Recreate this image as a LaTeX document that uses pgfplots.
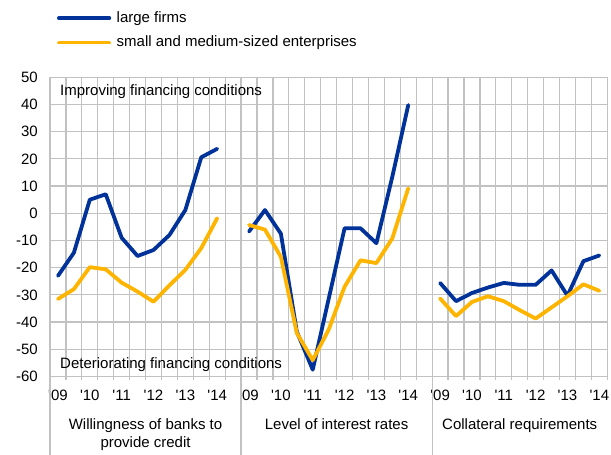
\documentclass[border=0pt]{standalone}
\usepackage{fontspec}
\setmainfont{Liberation Sans}
\usepackage{pgfplots}
\pgfplotsset{compat=1.18}
\definecolor{ecbblue}{RGB}{0,50,153}
\definecolor{ecbyellow}{RGB}{255,180,0}
\colorlet{lightgrid}{black!24}
\newcommand{\q}{\textquotesingle}
\newcommand{\fs}{\fontsize{15}{18}\selectfont}
\begin{document}
\fs
\begin{tikzpicture}
\begin{axis}[
  scale only axis, width=557.3pt, height=299.2pt,
  xmin=-0.5, xmax=34.5, ymin=-60, ymax=50,
  ytick={-60,-50,...,50},
  xtick={0,2,4,6,8,10,12,14,16,18,20,22,24,26,28,30,32,34},
  xticklabels={\q09,\q10,\q11,\q12,\q13,\q14,\q09,\q10,\q11,\q12,\q13,\q14,\q09,\q10,\q11,\q12,\q13,\q14},
  minor xtick={-0.5,0.5,...,34.5},
  grid=both, xmajorgrids=false,
  grid style={draw=lightgrid, line width=1.2pt},
  axis line style={draw=lightgrid, line width=1.2pt},
  major tick length=0.01pt,
  minor tick length=4pt, tick align=outside,
  xtick pos=bottom, ytick pos=left,
  minor tick style={draw=lightgrid, line width=1.2pt},
  tick label style={font=\fs},
  /pgf/number format/assume math mode=true,
  yticklabel style={anchor=east, inner sep=0pt, xshift=-12pt},
  xticklabel style={anchor=base, inner sep=0pt, yshift=-23.5pt},
  clip=false,
  unbounded coords=jump,
  legend style={at={(rel axis cs:0,1)}, anchor=north west, xshift=7pt, yshift=65.6pt,
    draw=none, fill=none, inner sep=0pt, outer sep=0pt, column sep=5.5pt, row sep=11.2pt,
    font=\fs, nodes={inner sep=0pt}},
  legend cell align=left,
  legend image code/.code={\draw[#1] (0pt,0pt) -- (50.4pt,0pt);},
]
\addplot[ecbblue, line width=3.8pt, line join=round, line cap=round] coordinates {
 (0,-23) (1,-14.5) (2,5) (3,7) (4,-9) (5,-15.7) (6,-13.5) (7,-8) (8,1.2) (9,20.6) (10,23.7)
 (11,nan)
 (12,-6.7) (13,1.2) (14,-7.5) (15,-43.5) (16,-57.5) (17,-31.5) (18,-5.5) (19,-5.5) (20,-11) (21,13.5) (22,39.8)
 (23,nan)
 (24,-25.6) (25,-32.3) (26,-29.3) (27,-27.3) (28,-25.6) (29,-26.3) (30,-26.3) (31,-21) (32,-30.3) (33,-17.6) (34,-15.5)
};
\addlegendentry{large firms}
\addplot[ecbyellow, line width=3.8pt, line join=round, line cap=round] coordinates {
 (0,-31.5) (1,-27.9) (2,-19.8) (3,-20.6) (4,-25.5) (5,-28.8) (6,-32.5) (7,-26.5) (8,-20.8) (9,-12.8) (10,-1.8)
 (11,nan)
 (12,-4.3) (13,-6) (14,-16) (15,-44) (16,-54) (17,-42.8) (18,-27) (19,-17.3) (20,-18.3) (21,-9.2) (22,9.2)
 (23,nan)
 (24,-31.3) (25,-37.8) (26,-32.6) (27,-30.5) (28,-32.3) (29,-35.6) (30,-38.7) (31,-34.6) (32,-30.5) (33,-26.1) (34,-28.5)
};
\addlegendentry{small and medium-sized enterprises}
\coordinate (SW) at (rel axis cs:0,0);
\coordinate (NE) at (rel axis cs:1,1);
\coordinate (S0) at (axis cs:-0.5,-60);
\coordinate (S1) at (axis cs:11.5,-60);
\coordinate (S2) at (axis cs:23.5,-60);
\coordinate (G1) at (axis cs:5.5,-60);
\coordinate (G2) at (axis cs:17.5,-60);
\coordinate (G3) at (axis cs:29,-60);
\node[anchor=base west, inner sep=0pt, xshift=10pt, yshift=-18.7pt] at (axis cs:-0.5,50) {Improving financing conditions};
\node[anchor=base west, inner sep=0pt, xshift=10pt, yshift=8.2pt] at (axis cs:-0.5,-60) {Deteriorating financing conditions};
\end{axis}
\draw[lightgrid, line width=1.2pt] (S0) -- ([yshift=-80pt]S0);
\draw[lightgrid, line width=1.2pt] (S1) -- ([yshift=-80pt]S1);
\draw[lightgrid, line width=1.2pt] (S2) -- ([yshift=-80pt]S2);
\node[anchor=base, inner sep=0pt, yshift=-53.5pt] at (G1) {Willingness of banks to};
\node[anchor=base, inner sep=0pt, yshift=-70.8pt] at (G1) {provide credit};
\node[anchor=base, inner sep=0pt, yshift=-53.5pt] at (G2) {Level of interest rates};
\node[anchor=base, inner sep=0pt, yshift=-53.5pt] at (G3) {Collateral requirements};
\pgfresetboundingbox
\path[use as bounding box] ([xshift=-50pt,yshift=-78.5pt]SW) rectangle ([xshift=3.7pt,yshift=77.3pt]NE);
\end{tikzpicture}
\end{document}
